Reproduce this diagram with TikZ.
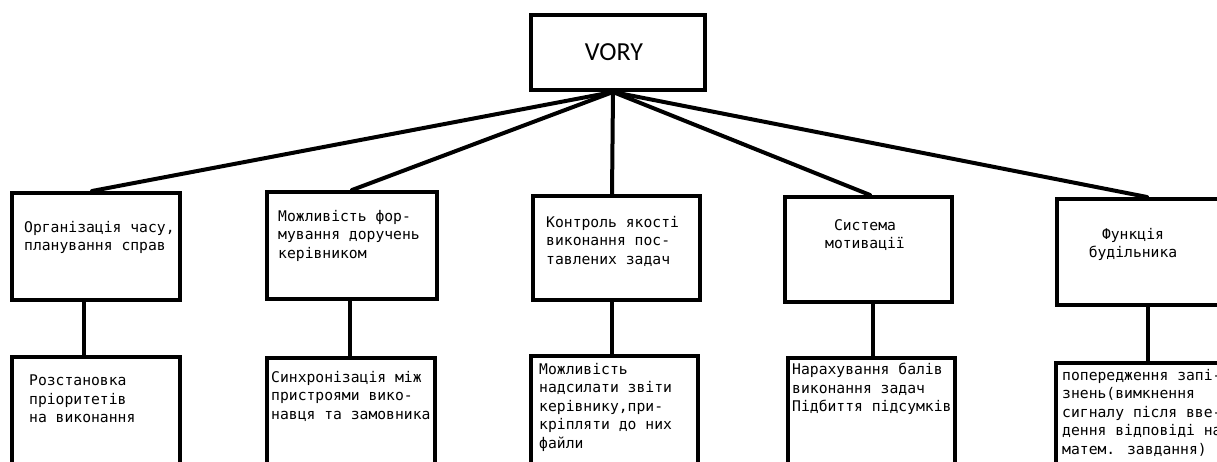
\documentclass[tikz,border=0pt]{standalone}
\usepackage{fontspec}
\newfontfamily\monofnt{DejaVu Sans Mono}
\newfontfamily\titlefnt{Carlito}
\tikzset{
  box/.style={draw=black, line width=4pt, rectangle, inner sep=0pt, fill=none},
  conn/.style={draw=black, line width=4pt},
  txt/.style={inner sep=0pt, anchor=north west, align=left, font=\monofnt\fontsize{14.7}{18.5}\selectfont},
  ctxt/.style={inner sep=0pt, anchor=north, align=center, font=\monofnt\fontsize{14.7}{18.5}\selectfont}
}
\begin{document}
\begin{tikzpicture}[x=1pt,y=-1pt]
\useasboundingbox (0,0) rectangle (1217,461);
\clip (0,0) rectangle (1217,461);
\fill[white] (0,0) rectangle (1217,461);
% boxes
\node[box, minimum width=174pt, minimum height=75pt] (b0) at (618,52.5) {};
\node[box, minimum width=168pt, minimum height=107pt] (b11) at (96,246.5) {};
\node[box, minimum width=170pt, minimum height=107pt] (b12) at (352,245.5) {};
\node[box, minimum width=167pt, minimum height=104pt] (b13) at (616.5,248) {};
\node[box, minimum width=167pt, minimum height=105pt] (b14) at (868.5,249.5) {};
\node[box, minimum width=183pt, minimum height=106pt] (b15) at (1148.5,252) {};
\node[box, minimum width=168pt, minimum height=123pt] (b21) at (96,418.5) {};
\node[box, minimum width=168pt, minimum height=122pt] (b22) at (351,419) {};
\node[box, minimum width=167pt, minimum height=124pt] (b23) at (614.5,418) {};
\node[box, minimum width=167pt, minimum height=122pt] (b24) at (871.5,419) {};
\node[box, minimum width=184pt, minimum height=117pt] (b25) at (1148,421.5) {};
% title
\node[inner sep=0pt, font=\titlefnt\fontsize{26}{30}\selectfont] (vory) at (614,52) {VORY};
% connectors
\coordinate (apex) at ([xshift=-5pt]b0.south);
\draw[conn, line cap=round] (apex) -- ([xshift=-4pt]b11.north);
\draw[conn, line cap=round] (apex) -- (b12.north);
\draw[conn, line cap=round] (apex) -- ([xshift=-4.5pt]b13.north);
\draw[conn, line cap=round] (apex) -- ([xshift=1.5pt]b14.north);
\draw[conn, line cap=round] (apex) -- ([xshift=-1.5pt]b15.north);
\draw[conn] ([xshift=-12pt]b11.south) -- ([xshift=-12pt]b11.south |- b21.north);
\draw[conn] ([xshift=-2pt]b12.south) -- ([xshift=-2pt]b12.south |- b22.north);
\draw[conn] ([xshift=-4.5pt]b13.south) -- ([xshift=-4.5pt]b13.south |- b23.north);
\draw[conn] ([xshift=4.5pt]b14.south) -- ([xshift=4.5pt]b14.south |- b24.north);
\draw[conn] ([xshift=-0.5pt]b15.south) -- ([xshift=-0.5pt]b15.south |- b25.north);
% texts
\node[txt] (t11) at (24,221) {Організація часу,\\планування справ};
\node[txt] (t12) at (278,210) {Можливість фор-\\мування доручень\\керівником};
\node[txt] (t13) at (546,216) {Контроль якості\\виконання пос-\\тавлених задач};
\node[ctxt] (t14) at (865,219) {Система\\мотивації};
\node[ctxt] (t15) at (1133,228) {Функція\\будільника};
\node[txt] (t21) at (29,375) {Розстановка\\пріоритетів\\на виконання};
\node[txt] (t22) at (271,371) {Синхронізація між\\пристроями вико-\\навця та замовника};
\node[txt] (t23) at (539,363) {Можливість\\надсилати звіти\\керівнику,при-\\кріпляти до них\\файли};
\node[txt] (t24) at (792,363) {Нарахування балів\\виконання задач\\Підбиття підсумків};
\node[txt] (t25) at (1062,369) {попередження запі-\\знень(вимкнення\\сигналу після вве-\\дення відповіді на\\матем. завдання)};
\end{tikzpicture}
\end{document}
